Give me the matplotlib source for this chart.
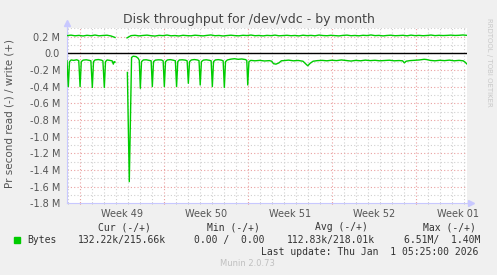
import matplotlib
matplotlib.use('Agg')
import matplotlib.pyplot as plt
import numpy as np

# ---- data (days since Monday of week 49, values in MB/s) ----
nan = float('nan')

write_start = -1.06
write_step = 1.0 / 3.0
write_v = [0.212, 0.218, 0.210, 0.215, 0.208, 0.216, 0.211, 0.219, 0.210, 0.214,
           0.217, 0.208, 0.190, nan, nan, 0.185,
           0.212, 0.216, 0.209, 0.214, 0.218, 0.211, 0.207, 0.215, 0.212, 0.219,
           0.210, 0.213, 0.208, 0.216, 0.212, 0.210, 0.217, 0.213, 0.209, 0.215,
           0.220, 0.211, 0.214, 0.208, 0.213, 0.217, 0.212, 0.210, 0.216, 0.213,
           0.219, 0.211, 0.214, 0.209, 0.215, 0.212, 0.218, 0.210, 0.213, 0.216,
           0.211, 0.214, 0.209, 0.217, 0.212, 0.215, 0.210, 0.219, 0.213, 0.211,
           0.216, 0.212, 0.209, 0.215, 0.218, 0.211, 0.214, 0.210, 0.216, 0.213,
           0.220, 0.212, 0.215, 0.209, 0.214, 0.217, 0.211, 0.213, 0.216, 0.210,
           0.218, 0.212, 0.215, 0.211, 0.214, 0.219, 0.212, 0.216, 0.213, 0.215,
           0.218, 0.214, 0.216, 0.220, 0.215]

read_t = [-1.06, -0.95, -0.85, -0.72, -0.5, -0.25, -0.08,
          0.03, 0.13, 0.28, 0.55, 0.8, 0.93,
          1.05, 1.15, 1.28, 1.55, 1.8, 1.93,
          2.05, 2.15, 2.28, 2.5, 2.7, 2.8, 2.87, 2.94, 2.95,
          3.97, 4.13, 4.32, 4.45, 4.7, 4.87, 4.96,
          5.05, 5.15, 5.3, 5.55, 5.8, 5.95,
          6.05, 6.15, 6.3, 6.55, 6.8, 6.95,
          7.05, 7.15, 7.3, 7.55, 7.8, 7.97,
          8.07, 8.17, 8.3, 8.55, 8.8, 8.95,
          9.05, 9.15, 9.3, 9.55, 9.8, 9.94,
          10.04, 10.14, 10.3, 10.55, 10.8, 10.95,
          11.05, 11.15, 11.3, 11.55, 11.8, 11.95,
          12.05, 12.15, 12.3, 12.6, 12.9, 13.2, 13.5, 13.8, 13.92,
          14.0, 14.1, 14.25, 14.6, 15.0, 15.4, 15.8, 16.0, 16.15, 16.35,
          16.6, 16.8, 17.0, 17.4, 17.8, 18.2, 18.6, 18.85, 19.0, 19.2,
          19.45, 19.8, 20.2, 20.6, 21.0, 21.4, 21.8, 22.2, 22.6, 23.0,
          23.4, 23.8, 24.2, 24.6, 25.0, 25.4, 25.8, 26.2, 26.6, 26.9,
          27.05, 27.2, 27.5, 27.9, 28.3, 28.7, 28.9, 29.2, 29.6, 30.0,
          30.4, 30.8, 31.2, 31.6, 31.95, 32.1, 32.28]
read_v = [-0.09, -0.40, -0.10, -0.08, -0.085, -0.078, -0.088,
          -0.40, -0.10, -0.082, -0.078, -0.085, -0.09,
          -0.41, -0.10, -0.08, -0.075, -0.082, -0.09,
          -0.41, -0.10, -0.08, -0.085, -0.09, -0.13, -0.10, -0.105, nan,
          -0.23, -1.54, -0.05, -0.035, -0.04, -0.06, -0.085,
          -0.42, -0.10, -0.08, -0.078, -0.085, -0.09,
          -0.40, -0.10, -0.082, -0.078, -0.08, -0.09,
          -0.40, -0.10, -0.08, -0.076, -0.083, -0.09,
          -0.40, -0.10, -0.08, -0.078, -0.082, -0.09,
          -0.36, -0.10, -0.08, -0.075, -0.08, -0.088,
          -0.38, -0.10, -0.082, -0.078, -0.084, -0.09,
          -0.40, -0.10, -0.08, -0.076, -0.082, -0.09,
          -0.41, -0.10, -0.08, -0.07, -0.065, -0.072, -0.068, -0.075, -0.085,
          -0.38, -0.10, -0.085, -0.09, -0.085, -0.092, -0.088, -0.095, -0.125, -0.13,
          -0.115, -0.09, -0.088, -0.082, -0.09, -0.086, -0.095, -0.13, -0.15, -0.12,
          -0.095, -0.088, -0.085, -0.09, -0.083, -0.088, -0.08, -0.087, -0.093, -0.085,
          -0.09, -0.082, -0.088, -0.084, -0.09, -0.086, -0.083, -0.09, -0.087, -0.09,
          -0.115, -0.095, -0.088, -0.084, -0.08, -0.072, -0.075, -0.085, -0.09, -0.084,
          -0.088, -0.082, -0.09, -0.085, -0.09, -0.105, -0.13]

ytick_vals = [0.2, 0.0, -0.2, -0.4, -0.6, -0.8, -1.0, -1.2, -1.4, -1.6, -1.8]
ytick_labels = ['0.2 M', '0.0', '-0.2 M', '-0.4 M', '-0.6 M', '-0.8 M', '-1.0 M',
                '-1.2 M', '-1.4 M', '-1.6 M', '-1.8 M']
week_labels = ['Week 49', 'Week 50', 'Week 51', 'Week 52', 'Week 01']

legend_head = ['Cur (-/+)', 'Min (-/+)', 'Avg (-/+)', 'Max (-/+)']
legend_vals = ['132.22k/215.66k', '0.00 /  0.00', '112.83k/218.01k', '6.51M/  1.40M']
last_update = 'Last update: Thu Jan  1 05:25:00 2026'

# ---- figure ----
W, H = 497, 275
fig = plt.figure(figsize=(W / 100, H / 100), dpi=100, facecolor='#f0f0f0')
ax = fig.add_axes([67 / W, 1 - 203.3 / H, 400 / W, 175 / H])
ax.set_facecolor('white')
ax.set_xlim(-1.06, 32.27)
ax.set_ylim(-1.8, 0.3)

green = '#00cc00'
grid_gray = '#d0d0d0'
grid_red = '#eaa0a0'
axis_col = '#c8c8ff'

# grid
for d in range(-1, 33):
    c = grid_red if d % 7 == 0 else grid_gray
    ax.axvline(d, color=c, lw=0.8, ls=(0, (1, 2)), zorder=1)
for v in np.arange(-17, 4) / 10.0:
    c = grid_red if abs(round(v * 10)) % 2 == 0 else grid_gray
    ax.axhline(v, color=c, lw=0.8, ls=(0, (1, 2)), zorder=1)

ax.axhline(0, color='black', lw=1.0, zorder=2)

write_t = write_start + write_step * np.arange(len(write_v))
ax.plot(write_t, write_v, color=green, lw=1.0, zorder=3)
ax.plot(read_t, read_v, color=green, lw=1.0, zorder=3)

# axes look
for s in ['top', 'right']:
    ax.spines[s].set_visible(False)
ax.spines['left'].set_color(axis_col)
ax.spines['bottom'].set_color(axis_col)
ax.spines['left'].set_linewidth(0.8)
ax.spines['bottom'].set_linewidth(0.8)
ax.plot([0, 0], [1.0, 1.03], color=axis_col, lw=0.8, transform=ax.transAxes, clip_on=False)
ax.plot([0], [1.03], marker='^', color=axis_col, markersize=4, transform=ax.transAxes, clip_on=False)
ax.plot([1.0, 1.01], [0, 0], color=axis_col, lw=0.8, transform=ax.transAxes, clip_on=False)
ax.plot([1.01], [0], marker='>', color=axis_col, markersize=4, transform=ax.transAxes, clip_on=False)

ax.set_yticks(ytick_vals)
ax.set_yticklabels(ytick_labels)
ax.tick_params(axis='y', length=0, pad=5, labelsize=7, labelcolor='#555555')
ax.set_xticks(range(0, 33, 7))
ax.set_xticks(range(-1, 33), minor=True)
ax.set_xticklabels([])
ax.tick_params(axis='x', which='major', length=2, color='#e08080', direction='inout')
ax.tick_params(axis='x', which='minor', length=2, color='#bbbbbb', direction='inout')
for i, lab in enumerate(week_labels):
    ax.text(3.5 + 7 * i, -1.87, lab, ha='center', va='top', fontsize=7, color='#555555',
            clip_on=False)

# titles
fig.text(249 / W, 1 - 19 / H, 'Disk throughput for /dev/vdc - by month', ha='center', va='center',
         fontsize=9, color='#444444')
fig.text(10 / W, 1 - 114 / H, 'Pr second read (-) / write (+)', rotation=90, ha='center', va='center',
         fontsize=7.5, color='#555555')
fig.text(489 / W, 1 - 62 / H, 'RRDTOOL / TOBI OETIKER', rotation=270, ha='center', va='center',
         fontsize=5, color='#c8c8c8')

# legend
mono = 'DejaVu Sans Mono'
for x, t in zip([98, 207, 315, 423], legend_head):
    fig.text(x / W, 1 - 227.3 / H, t, ha='left', va='center', fontsize=7, family=mono, color='#333333')
fig.patches.append(plt.Rectangle((14 / W, 1 - 242.7 / H), 6 / W, 6 / H, transform=fig.transFigure,
                                 color=green, figure=fig))
fig.text(27 / W, 1 - 239.7 / H, 'Bytes', ha='left', va='center', fontsize=7, family=mono, color='#333333')
for x, t in zip([78, 194, 287, 404], legend_vals):
    fig.text(x / W, 1 - 239.7 / H, t, ha='left', va='center', fontsize=7, family=mono, color='#333333')
fig.text(261 / W, 1 - 251.7 / H, last_update, ha='left', va='center', fontsize=7, family=mono, color='#333333')
fig.text(247.5 / W, 1 - 264 / H, 'Munin 2.0.73', ha='center', va='center', fontsize=6, color='#c0c0c0')

fig.savefig('out.png', dpi=100, facecolor=fig.get_facecolor())
